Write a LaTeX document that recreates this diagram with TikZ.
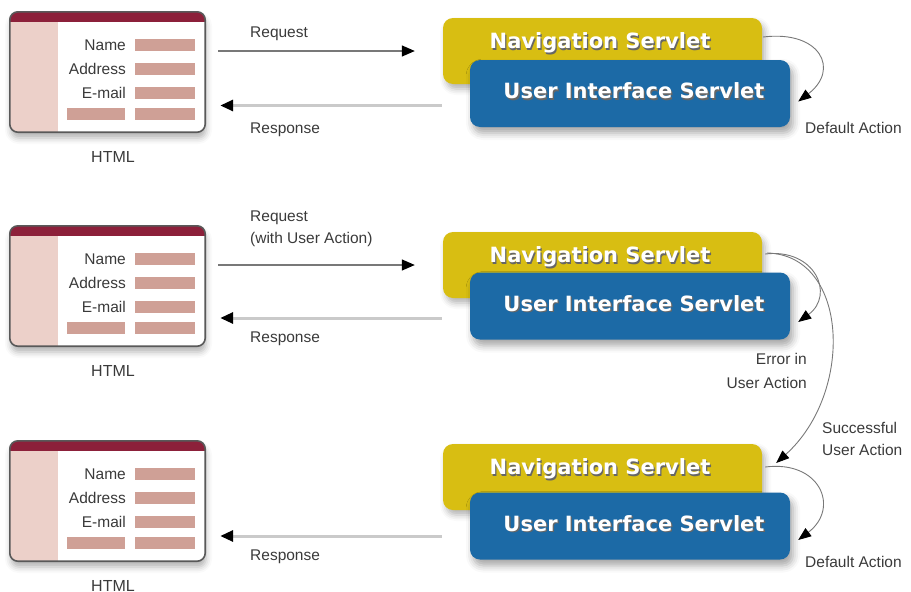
\documentclass[tikz,border=0pt]{standalone}
\usepackage{fontspec}
\setmainfont{Liberation Sans}
\newfontfamily\boxfont{DejaVu Sans}
\usetikzlibrary{arrows.meta,calc,shadows.blur}

\definecolor{formbar}{RGB}{140,32,58}
\definecolor{formside}{RGB}{236,208,201}
\definecolor{formfield}{RGB}{207,160,150}
\definecolor{navyellow}{RGB}{216,190,18}
\definecolor{uiblue}{RGB}{28,106,166}
\definecolor{textgray}{RGB}{58,58,58}
\definecolor{reqgray}{RGB}{120,120,120}
\definecolor{respgray}{RGB}{202,202,202}

\begin{document}
\begin{tikzpicture}[x=1pt, y=-1pt,
        txt/.style={text=textgray, inner sep=0pt, font=\fontsize{15.5}{23}\selectfont},
        form/.style={rectangle, rounded corners=8pt, minimum width=195pt, minimum height=120pt, fill=white,
            blur shadow={shadow xshift=1pt, shadow yshift=-6pt, shadow blur radius=6pt, shadow opacity=30}},
        formline/.style={draw=black!65, line width=1.6pt, rounded corners=8pt},
        field/.style={rectangle, fill=formfield, minimum width=60pt, minimum height=12pt, inner sep=0pt},
        nav/.style={rectangle, rounded corners=10pt, fill=navyellow, minimum width=319pt, minimum height=66pt,
            blur shadow={shadow xshift=3pt, shadow yshift=-5pt, shadow blur radius=6pt, shadow opacity=30}},
        ui/.style={rectangle, rounded corners=10pt, fill=uiblue, minimum width=320pt, minimum height=67pt,
            blur shadow={shadow xshift=3pt, shadow yshift=-6pt, shadow blur radius=7pt, shadow opacity=35}},
        boxtxt/.style={text=white, inner sep=0pt, font=\boxfont\bfseries\fontsize{21}{25}\selectfont},
        boxshade/.style={boxtxt, text=black!60},
        req/.style={draw=reqgray, line width=1.3pt, -{Triangle[length=13pt, width=11pt, color=black]}},
        resp/.style={draw=respgray, line width=3pt, -{Triangle[length=13pt, width=11pt, color=black]}},
        act/.style={draw=reqgray, line width=0.9pt, -{Triangle[length=13pt, width=10pt, color=black]}}
    ]
        \useasboundingbox (0,0) rectangle (911,592);

        % 表单
        \foreach \n/\y in {1/72, 2/286, 3/501} {
            \node[form] (form\n) at (107.5,\y) {};
            \begin{scope}
                \clip[rounded corners=8pt] (form\n.south west) rectangle (form\n.north east);
                \fill[formside] (form\n.north west) rectangle ([xshift=48pt]form\n.south west);
                \fill[formbar] (form\n.north west) rectangle ([yshift=-10pt]form\n.north east);
            \end{scope}
            \draw[formline] (form\n.south west) rectangle (form\n.north east);
            \node[txt, anchor=base east] (name\n) at (126,\y-22) {Name};
            \node[txt, anchor=base east] (addr\n) at (126,\y+2) {Address};
            \node[txt, anchor=base east] (mail\n) at (126,\y+26) {E-mail};
            \node[field] (fname\n) at (165,\y-27) {};
            \node[field] (faddr\n) at (165,\y-3) {};
            \node[field] (fmail\n) at (165,\y+21) {};
            \node[field, minimum width=58pt] (fleft\n) at (96,\y+42) {};
            \node[field] (fright\n) at (165,\y+42) {};
            \node[txt, anchor=base, font=\fontsize{16}{20}\selectfont] (html\n) at (113,\y+90) {HTML};
        }

        % Servlet
        \foreach \n/\yn/\yu in {1/51/93.5, 2/265/306, 3/477/526} {
            \node[nav] (nav\n) at (602.5,\yn) {};
            \node[boxshade] (navsh\n) at ([shift={(-1.3pt,6.7pt)}]nav\n.center) {Navigation Servlet};
            \node[boxtxt] (navtxt\n) at ([shift={(-2.5pt,8pt)}]nav\n.center) {Navigation Servlet};
            \node[ui] (ui\n) at (630,\yu) {};
            \node[boxshade] (uish\n) at ([shift={(5.3pt,1.2pt)}]ui\n.center) {User Interface Servlet};
            \node[boxtxt] (uitxt\n) at ([shift={(4pt,2.5pt)}]ui\n.center) {User Interface Servlet};
        }

        % 请求与响应
        \draw[req, shorten <=13pt, shorten >=28pt] (form1.east |- nav1.west) -- (nav1.west);
        \draw[req, shorten <=13pt, shorten >=28pt] (form2.east |- nav2.west) -- (nav2.west);
        \coordinate (rs1) at ($(nav1.west |- ui1.west)+(-1,12)$);
        \coordinate (rs2) at ($(nav2.west |- ui2.west)+(-1,12)$);
        \coordinate (rs3) at ($(nav3.west |- ui3.west)+(-1,10)$);
        \draw[resp, shorten >=15pt] (rs1) -- (form1.east |- rs1);
        \draw[resp, shorten >=15pt] (rs2) -- (form2.east |- rs2);
        \draw[resp, shorten >=15pt] (rs3) -- (form3.east |- rs3);

        \node[txt, anchor=base west] (req1) at (250,37) {Request};
        \node[txt, anchor=base west] (res1) at (250,133) {Response};
        \node[txt, anchor=north west, align=left, font=\fontsize{15.5}{22}\selectfont] (req2) at (250,211) {Request\\(with User Action)};
        \node[txt, anchor=base west] (res2) at (250,342) {Response};
        \node[txt, anchor=base west] (res3) at (250,560) {Response};

        % 动作
        \draw[act] ([shift={(1pt,14pt)}]nav1.east) .. controls +(57,-7) and +(42,-32) .. ([shift={(8pt,-8pt)}]ui1.east);
        \draw[act] ([shift={(3pt,11pt)}]nav2.east) .. controls +(50,-6) and +(37,-27) .. ([shift={(8pt,-16pt)}]ui2.east);
        \draw[act] ([shift={(5pt,12pt)}]nav2.east) .. controls +(82,2) and +(78,-70) .. ([shift={(14pt,14pt)}]nav3.east);
        \draw[act] ([shift={(3pt,10pt)}]nav3.east) .. controls +(55,-7) and +(42,-32) .. ([shift={(8pt,-14pt)}]ui3.east);

        \node[txt, anchor=base west] (def1) at (805,133) {Default Action};
        \node[txt, anchor=east, align=right, font=\fontsize{15.5}{24}\selectfont] (err) at (807,371) {Error in\\User Action};
        \node[txt, anchor=west, align=left, font=\fontsize{15.5}{22}\selectfont] (ok) at (822,439) {Successful\\User Action};
        \node[txt, anchor=base west] (def3) at (805,567) {Default Action};
    \end{tikzpicture}
\end{document}
